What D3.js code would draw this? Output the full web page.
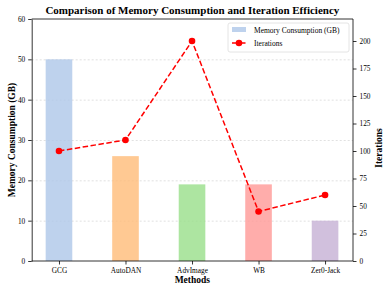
<!DOCTYPE html>
<html>
<head>
<meta charset="utf-8">
<script src="https://cdn.jsdelivr.net/npm/d3@7"></script>
<style>
  body { margin: 0; background: #fff; }
  svg, svg text { font-family: "Liberation Serif", "DejaVu Serif", serif; }
  .grid line { stroke: #ccc; stroke-dasharray: 2 2; stroke-width: 0.6; }
  .grid path { display: none; }
</style>
</head>
<body>
<svg id="chart" width="389" height="292"></svg>
<script>

// data
const methods = ["GCG", "AutoDAN", "AdvImage", "WB", "Zer0-Jack"];
const memory = [50, 26, 19, 19, 10];
const iterations = [100, 110, 200, 45, 60];
const barColors = ["#aec7e8", "#ffbb78", "#98df8a", "#ff9896", "#c5b0d5"];
const memTicks = [0, 10, 20, 30, 40, 50, 60];
const iterTicks = [0, 25, 50, 75, 100, 125, 150, 175, 200];

/*************************************************************************/

const svg = d3.select("#chart");
const mLeft = 31.7, mRight = 353, mTop = 19, mBottom = 261;

const x = d3.scaleLinear().domain([-0.41, 4.42]).range([mLeft, mRight]);
const yMem = d3.scaleLinear().domain([0, 60]).range([mBottom, mTop]);
const yIter = d3.scaleLinear().domain([0, 220]).range([mBottom, mTop]);
const barW = x(0.4) - x(0);

// grid
svg.append("g")
    .attr("class", "grid")
    .attr("transform", `translate(${mLeft},0)`)
    .call(d3.axisLeft(yMem).tickValues(memTicks.slice(1, -1)).tickSize(-(mRight - mLeft)).tickFormat(""));

// bars
svg.append("g")
    .selectAll("rect")
    .data(memory)
    .enter().append("rect")
    .attr("x", (d, i) => x(i) - barW / 2)
    .attr("y", d => yMem(d))
    .attr("width", barW)
    .attr("height", d => mBottom - yMem(d))
    .attr("fill", (d, i) => barColors[i])
    .attr("fill-opacity", 0.8);

// axes
function styleAxis(g){
    g.attr("font-family", null);
    g.selectAll("text").style("font-size", "7.3px").attr("fill", "#000");
    g.selectAll("line").attr("stroke", "#000").attr("stroke-width", 0.8);
    g.select(".domain").attr("stroke", "#000").attr("stroke-width", 0.8);
}

svg.append("g")
    .attr("transform", `translate(0,${mBottom})`)
    .call(d3.axisBottom(x).tickValues(d3.range(methods.length)).tickFormat(i => methods[i]).tickSize(3.5).tickSizeOuter(0))
    .call(styleAxis)
    .call(g => g.select(".domain").attr("d", `M${mLeft},0H${mRight}`));

svg.append("g")
    .attr("transform", `translate(${mLeft},0)`)
    .call(d3.axisLeft(yMem).tickValues(memTicks).tickSize(3.5).tickSizeOuter(0))
    .call(styleAxis);

svg.append("g")
    .attr("transform", `translate(${mRight},0)`)
    .call(d3.axisRight(yIter).tickValues(iterTicks).tickSize(3.5).tickSizeOuter(0))
    .call(styleAxis)
    .call(g => g.select(".domain").attr("d", `M0,${mTop}V${mBottom}`));

// top spine
svg.append("line")
    .attr("x1", mLeft).attr("x2", mRight).attr("y1", mTop).attr("y2", mTop)
    .attr("stroke", "#000").attr("stroke-width", 0.8);

// iteration line
const line = d3.line().x((d, i) => x(i)).y(d => yIter(d));
svg.append("path")
    .datum(iterations)
    .attr("d", line)
    .attr("fill", "none")
    .attr("stroke", "#ff0000")
    .attr("stroke-width", 1.5)
    .attr("stroke-dasharray", "5.5 2.5");

svg.append("g")
    .selectAll("circle")
    .data(iterations)
    .enter().append("circle")
    .attr("cx", (d, i) => x(i))
    .attr("cy", d => yIter(d))
    .attr("r", 3.3)
    .attr("fill", "#ff0000");

// titles
svg.append("text")
    .attr("x", (mLeft + mRight) / 2).attr("y", 14)
    .attr("text-anchor", "middle")
    .style("font-size", "11px").style("font-weight", "bold")
    .text("Comparison of Memory Consumption and Iteration Efficiency");

svg.append("text")
    .attr("x", (mLeft + mRight) / 2).attr("y", 283)
    .attr("text-anchor", "middle")
    .style("font-size", "9.5px").style("font-weight", "bold")
    .text("Methods");

svg.append("text")
    .attr("transform", `translate(14.5,${(mTop + mBottom) / 2}) rotate(-90)`)
    .attr("text-anchor", "middle")
    .style("font-size", "9.5px").style("font-weight", "bold")
    .text("Memory Consumption (GB)");

svg.append("text")
    .attr("transform", `translate(382,148) rotate(-90)`)
    .attr("text-anchor", "middle")
    .style("font-size", "9.5px").style("font-weight", "bold")
    .text("Iterations");

// legend
const lg = svg.append("g").attr("transform", "translate(228,23)");
lg.append("rect")
    .attr("width", 121).attr("height", 29).attr("rx", 2)
    .attr("fill", "#fff").attr("fill-opacity", 0.8)
    .attr("stroke", "#ddd").attr("stroke-width", 0.8);
lg.append("rect")
    .attr("x", 4).attr("y", 4).attr("width", 14).attr("height", 5)
    .attr("fill", barColors[0]).attr("fill-opacity", 0.8);
lg.append("text").attr("x", 26).attr("y", 9.5).style("font-size", "7.5px").text("Memory Consumption (GB)");
lg.append("line")
    .attr("x1", 4).attr("x2", 18).attr("y1", 20).attr("y2", 20)
    .attr("stroke", "#ff0000").attr("stroke-width", 1.5).attr("stroke-dasharray", "5.5 2.5");
lg.append("circle").attr("cx", 11).attr("cy", 20).attr("r", 3.3).attr("fill", "#ff0000");
lg.append("text").attr("x", 26).attr("y", 22.5).style("font-size", "7.5px").text("Iterations");

</script>
</body>
</html>
